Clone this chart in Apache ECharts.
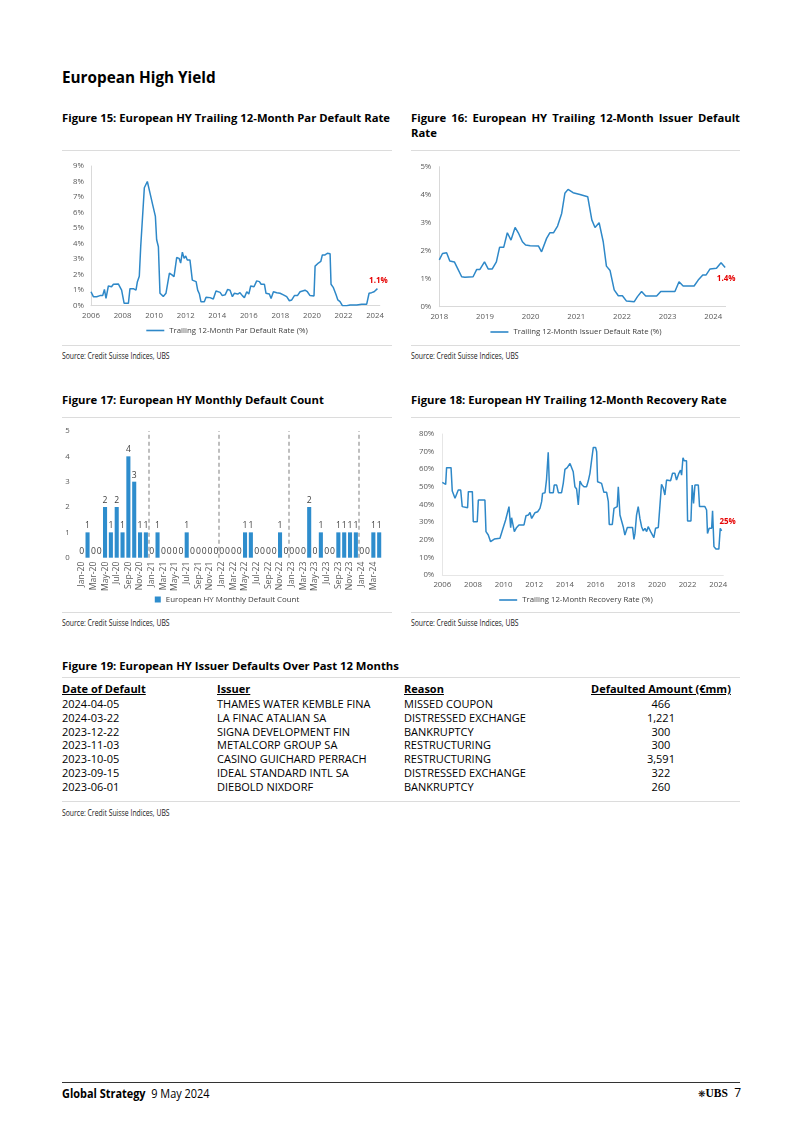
<!DOCTYPE html>
<html>
<head>
<meta charset="utf-8">
<script src="https://cdn.jsdelivr.net/npm/echarts@6/dist/echarts.min.js"></script>
<style>
  html, body { margin:0; padding:0; background:#fff; }
  body { width:802px; height:1134px; position:relative; overflow:hidden; font-family:"Open Sans", sans-serif; color:#000; }
  .abs { position:absolute; white-space:nowrap; }
  .title { font-weight:700; font-size:15.3px; line-height:16px; }
  .ftitle { font-weight:700; font-size:11.3px; line-height:15px; }
  .rule { position:absolute; height:1px; background:#dcdcdc; }
  .src { font-size:9.4px; line-height:10px; color:#222; transform:scaleX(0.73); transform-origin:0 50%; }
  .chart { position:absolute; }
  table.tbl { position:absolute; left:62px; top:682px; border-collapse:collapse; font-size:11px; }
  table.tbl td, table.tbl th { padding:0; height:13.75px; line-height:13.75px; white-space:nowrap; text-align:left; font-weight:400; }
  table.tbl th { font-weight:700; text-decoration:underline; height:15.2px; line-height:14px; vertical-align:top; }
  .footer { font-size:13px; line-height:14px; transform:scaleX(0.84); transform-origin:0 50%; }
</style>
</head>
<body>
<div class="abs title" style="left:62px; top:69px;">European High Yield</div>

<div class="abs ftitle" style="left:62px; top:110px;">Figure 15: European HY Trailing 12-Month Par Default Rate</div>
<div class="abs ftitle" style="left:411px; top:110px; width:329px; white-space:normal; text-align:justify; text-align-last:left;">Figure 16: European HY Trailing 12-Month Issuer Default Rate</div>
<div class="rule" style="left:62px; top:150px; width:330px;"></div>
<div class="rule" style="left:411px; top:150px; width:329px;"></div>
<div id="c15" class="chart" style="left:62px; top:151px; width:330px; height:194px;"></div>
<div id="c16" class="chart" style="left:411px; top:151px; width:330px; height:194px;"></div>
<div class="rule" style="left:62px; top:345px; width:330px;"></div>
<div class="rule" style="left:411px; top:345px; width:329px;"></div>
<div class="abs src" style="left:62px; top:351px;">Source: Credit Suisse Indices, UBS</div>
<div class="abs src" style="left:411px; top:351px;">Source: Credit Suisse Indices, UBS</div>

<div class="abs ftitle" style="left:62px; top:392px;">Figure 17: European HY Monthly Default Count</div>
<div class="abs ftitle" style="left:411px; top:392px;">Figure 18: European HY Trailing 12-Month Recovery Rate</div>
<div class="rule" style="left:62px; top:417px; width:330px;"></div>
<div class="rule" style="left:411px; top:417px; width:329px;"></div>
<div id="c17" class="chart" style="left:62px; top:419px; width:330px; height:193px;"></div>
<div id="c18" class="chart" style="left:411px; top:419px; width:330px; height:193px;"></div>
<div class="rule" style="left:62px; top:612px; width:330px;"></div>
<div class="rule" style="left:411px; top:612px; width:329px;"></div>
<div class="abs src" style="left:62px; top:618px;">Source: Credit Suisse Indices, UBS</div>
<div class="abs src" style="left:411px; top:618px;">Source: Credit Suisse Indices, UBS</div>

<div class="abs ftitle" style="left:62px; top:658px;">Figure 19: European HY Issuer Defaults Over Past 12 Months</div>
<div class="rule" style="left:62px; top:677px; width:678px;"></div>
<table class="tbl" id="tbl">
  <colgroup><col style="width:155px"><col style="width:187px"><col style="width:187px"><col style="width:139px"></colgroup>
  <thead><tr><th>Date of Default</th><th>Issuer</th><th>Reason</th><th style="text-align:center">Defaulted Amount (€mm)</th></tr></thead>
  <tbody id="tbody"></tbody>
</table>
<div class="rule" style="left:62px; top:801px; width:678px;"></div>
<div class="abs src" style="left:62px; top:808px;">Source: Credit Suisse Indices, UBS</div>

<div style="position:absolute; left:62px; top:1082px; width:678px; height:1px; background:#333;"></div>
<div class="abs footer" style="left:62px; top:1086px;"><b>Global Strategy</b>&nbsp; 9 May 2024</div>
<div class="abs" style="right:61px; top:1086px; font-size:12px; line-height:14px; text-align:right;"><span style="font-size:9px;">❋</span><span style="font-family:'Liberation Serif',serif; font-weight:700; font-size:11.5px;">UBS</span>&nbsp;&nbsp;7</div>

<script>
// ---------- Figure 15: trailing 12m par default rate (%) ----------
const parYears = [2006.0,2006.15,2006.36,2006.57,2006.74,2006.85,2006.95,2007.1,2007.3,2007.42,2007.73,2007.94,2008.05,2008.1,2008.37,2008.47,2008.68,2008.85,2008.94,2009.06,2009.15,2009.25,2009.38,2009.46,2009.57,2009.65,2009.74,2009.91,2010.08,2010.16,2010.27,2010.37,2010.45,2010.58,2010.75,2010.85,2010.97,2011.11,2011.26,2011.43,2011.58,2011.68,2011.79,2011.9,2012.0,2012.1,2012.27,2012.42,2012.66,2012.76,2012.87,2012.97,2013.18,2013.29,2013.54,2013.75,2013.92,2014.18,2014.32,2014.5,2014.66,2014.81,2014.96,2015.08,2015.3,2015.44,2015.59,2015.72,2015.87,2016.0,2016.12,2016.33,2016.5,2016.67,2016.78,2016.99,2017.09,2017.3,2017.41,2017.56,2017.77,2017.98,2018.19,2018.4,2018.57,2018.72,2018.89,2019.08,2019.25,2019.56,2019.71,2019.88,2020.13,2020.2,2020.41,2020.56,2020.66,2020.83,2020.98,2021.15,2021.21,2021.36,2021.53,2021.64,2021.78,2021.93,2022.2,2022.42,2022.84,2023.15,2023.47,2023.62,2023.78,2023.94,2024.05,2024.15];
const parRate = [0.9,0.58,0.58,0.65,0.65,1.05,0.47,1.27,1.22,1.38,1.4,1.0,1.0,0.15,0.15,1.1,1.1,1.0,1.55,1.9,3.8,3.8,7.6,7.7,8.0,7.9,7.25,6.5,5.75,4.25,3.8,0.8,0.9,0.6,0.8,0.9,2.1,2.0,1.87,3.1,3.05,2.75,3.45,3.05,3.2,2.95,2.95,1.65,1.55,1.0,0.75,0.25,0.25,0.55,0.52,0.43,0.95,0.86,0.65,0.7,1.05,1.0,0.58,0.8,0.75,0.84,0.65,0.52,0.9,0.75,1.27,1.22,1.6,1.55,1.38,1.38,0.8,0.75,0.47,0.9,0.84,0.8,0.7,0.58,0.32,0.37,0.65,0.65,0.9,1.0,0.9,0.65,0.62,2.55,2.75,2.85,3.27,3.27,3.38,3.35,1.38,1.16,0.7,0.37,0.26,0.0,0.0,0.04,0.05,0.1,0.1,0.8,0.84,0.9,1.0,1.1];

// ---------- Figure 16: trailing 12m issuer default rate (%) ----------
const issYears = [2018.0,2018.07,2018.1,2018.16,2018.23,2018.33,2018.4,2018.49,2018.56,2018.74,2018.82,2018.89,2018.99,2019.07,2019.16,2019.25,2019.32,2019.41,2019.49,2019.57,2019.66,2019.73,2019.82,2019.89,2019.99,2020.17,2020.24,2020.35,2020.42,2020.5,2020.59,2020.68,2020.75,2020.82,2020.93,2021.08,2021.25,2021.34,2021.41,2021.5,2021.59,2021.66,2021.74,2021.83,2021.92,2022.01,2022.1,2022.27,2022.34,2022.43,2022.52,2022.76,2022.85,2023.16,2023.25,2023.34,2023.58,2023.67,2023.77,2023.84,2023.93,2024.07,2024.17,2024.26];
const issRate = [1.67,1.9,1.94,1.93,1.63,1.6,1.37,1.07,1.05,1.07,1.33,1.33,1.6,1.35,1.35,1.6,2.12,2.12,2.64,2.38,2.83,2.64,2.32,2.2,2.18,2.17,1.96,2.44,2.64,2.64,2.88,3.33,4.05,4.19,4.07,4.01,3.93,3.1,2.83,3.0,2.32,1.45,1.29,0.6,0.39,0.39,0.2,0.18,0.36,0.54,0.38,0.38,0.54,0.54,0.89,0.74,0.74,0.95,1.13,1.13,1.35,1.37,1.57,1.4];

// ---------- Figure 17: monthly default count ----------
const months = ['Jan-20','Feb-20','Mar-20','Apr-20','May-20','Jun-20','Jul-20','Aug-20','Sep-20','Oct-20','Nov-20','Dec-20',
  'Jan-21','Feb-21','Mar-21','Apr-21','May-21','Jun-21','Jul-21','Aug-21','Sep-21','Oct-21','Nov-21','Dec-21',
  'Jan-22','Feb-22','Mar-22','Apr-22','May-22','Jun-22','Jul-22','Aug-22','Sep-22','Oct-22','Nov-22','Dec-22',
  'Jan-23','Feb-23','Mar-23','Apr-23','May-23','Jun-23','Jul-23','Aug-23','Sep-23','Oct-23','Nov-23','Dec-23',
  'Jan-24','Feb-24','Mar-24','Apr-24'];
const defaultCount = [0,1,0,0,2,1,2,1,4,3,1,1,
  0,1,0,0,0,0,1,0,0,0,0,0,
  0,0,0,0,1,1,0,0,0,0,1,0,
  0,0,0,2,0,1,0,0,1,1,1,1,
  0,0,1,1];
const yearStarts = ['Jan-21','Jan-22','Jan-23','Jan-24'];

// ---------- Figure 18: trailing 12m recovery rate (%) ----------
const recYears = [2006.0,2006.13,2006.22,2006.28,2006.57,2006.65,2006.78,2006.83,2006.93,2007.04,2007.2,2007.3,2007.43,2007.65,2007.7,2007.96,2008.02,2008.28,2008.35,2008.78,2008.85,2009.0,2009.15,2009.28,2009.39,2009.76,2009.91,2010.04,2010.13,2010.24,2010.35,2010.46,2010.52,2010.63,2010.7,2010.85,2011.0,2011.33,2011.39,2011.46,2011.61,2011.72,2011.83,2011.93,2012.04,2012.22,2012.37,2012.48,2012.54,2012.7,2012.8,2012.91,2013.0,2013.24,2013.3,2013.46,2013.57,2013.78,2013.89,2014.0,2014.15,2014.33,2014.43,2014.54,2014.65,2014.76,2014.87,2014.98,2015.09,2015.24,2015.41,2015.52,2015.63,2015.74,2015.85,2016.0,2016.07,2016.13,2016.24,2016.39,2016.54,2016.72,2016.83,2016.89,2017.09,2017.2,2017.3,2017.41,2017.48,2017.59,2017.7,2017.8,2017.91,2018.07,2018.41,2018.5,2018.57,2018.67,2018.78,2018.89,2019.0,2019.11,2019.22,2019.33,2019.43,2019.59,2019.72,2019.8,2019.91,2020.09,2020.2,2020.3,2020.41,2020.52,2020.63,2020.74,2020.89,2021.02,2021.17,2021.28,2021.43,2021.54,2021.61,2021.7,2021.78,2021.93,2022.0,2022.22,2022.3,2022.39,2022.48,2022.7,2022.78,2023.13,2023.24,2023.3,2023.41,2023.57,2023.63,2023.72,2023.85,2024.04,2024.13,2024.22];
const recRate = [52.5,52,51.4,60.9,60.9,47.6,47.3,43.5,42.9,48.2,48.2,38.8,38.2,38.2,47.3,47.3,30.2,30.2,42.5,42.5,24.6,22.7,18.9,18.3,20.4,20.8,25.1,25.5,31.2,32.1,38.8,26.8,32.5,32.1,24.6,27,28.4,28.4,27.4,33.6,34,35.5,32.1,31.6,35.3,35.9,37.8,41.6,46.3,46.7,54.3,69.6,46.7,46.7,51,51,46.7,46.7,52,59.9,60.9,63.3,63.3,58.6,50.1,48.8,39.7,53.3,51.4,50.1,50.1,53.3,57.7,65.2,72.4,72.4,69.9,52.9,52,52,46.9,46.9,41.6,28.7,28.7,37.8,38.8,38.8,50.1,34,33.1,27.4,22.7,27,27,20.2,23.6,34,38.8,32.1,27.4,25,26.5,24.6,27.4,24.6,24.6,21.2,26.5,27,26.1,51.4,49.5,45.4,53.9,52.9,53.5,57.7,57.7,53.9,57.7,59.5,56.7,66.5,64.8,64.8,30.6,30.6,51,40.6,51,51,38.8,38.8,36.9,23.6,26.5,26.5,36.5,16.1,14.7,14.7,26.5,25];

// ---------- Figure 19: table ----------
const tblDates = ['2024-04-05','2024-03-22','2023-12-22','2023-11-03','2023-10-05','2023-09-15','2023-06-01'];
const tblIssuers = ['THAMES WATER KEMBLE FINA','LA FINAC ATALIAN SA','SIGNA DEVELOPMENT FIN','METALCORP GROUP SA','CASINO GUICHARD PERRACH','IDEAL STANDARD INTL SA','DIEBOLD NIXDORF'];
const tblReasons = ['MISSED COUPON','DISTRESSED EXCHANGE','BANKRUPTCY','RESTRUCTURING','RESTRUCTURING','DISTRESSED EXCHANGE','BANKRUPTCY'];
const tblAmounts = ['466','1,221','300','300','3,591','322','260'];

const tb = document.getElementById('tbody');
tblDates.forEach((d, i) => {
  const tr = document.createElement('tr');
  [d, tblIssuers[i], tblReasons[i], tblAmounts[i]].forEach((t, j) => {
    const td = document.createElement('td');
    td.textContent = t;
    if (j === 3) td.style.textAlign = 'center';
    tr.appendChild(td);
  });
  tb.appendChild(tr);
});

// ---------- shared styles ----------
const FONT = 'Open Sans';
const LINE = '#2e88c8';
const BAR = '#2e8dcd';
const TICK = '#595959';
const AXIS = '#d9d9d9';
const RED = '#e60000';
const TF = 7.8;

function lineChart(id, opt) {
  const c = echarts.init(document.getElementById(id));
  const data = opt.xs.map((x, i) => [x, opt.ys[i]]);
  const last = data[data.length - 1];
  c.setOption({
    animation: false,
    textStyle: { fontFamily: FONT },
    grid: opt.grid,
    legend: {
      data: [opt.name], top: opt.legendTop, left: 'center',
      icon: 'rect', itemWidth: 18, itemHeight: 1.6, itemGap: 4,
      textStyle: { fontSize: TF, color: '#404040', fontFamily: FONT }
    },
    xAxis: {
      type: 'value', min: opt.xmin, max: opt.xmax, interval: opt.xint,
      axisLine: { show: true, lineStyle: { color: opt.axisColor, width: 1 } },
      axisTick: { show: false }, splitLine: { show: false },
      axisLabel: { fontSize: TF, color: TICK, margin: 6, fontFamily: FONT,
        formatter: v => (Math.abs(v - Math.round(v)) < 1e-6 && Math.round(v) % opt.xint === 0) ? String(Math.round(v)) : '' }
    },
    yAxis: {
      type: 'value', min: 0, max: opt.ymax, interval: opt.yint,
      axisLine: { show: true, lineStyle: { color: opt.axisColor, width: 1 } },
      axisTick: { show: false }, splitLine: { show: false },
      axisLabel: { fontSize: TF, color: TICK, margin: opt.ymargin, fontFamily: FONT, formatter: v => v + '%' }
    },
    series: [{
      name: opt.name, type: 'line', data: data, symbol: 'none', showSymbol: false,
      lineStyle: { color: LINE, width: 1.5 }, itemStyle: { color: LINE },
      markPoint: {
        silent: true, symbol: 'circle', symbolSize: 1, itemStyle: { color: 'rgba(0,0,0,0)' },
        label: { show: true, position: opt.labelPos, distance: opt.labelDist, offset: opt.labelOffset,
          formatter: () => opt.labelFmt(last[1]), color: RED, fontWeight: 'bold', fontSize: 8, fontFamily: FONT },
        data: [{ coord: last }]
      }
    }]
  });
}

lineChart('c15', {
  grid: { left: 29, top: 15, width: 288.8, height: 139.7 },
  name: 'Trailing 12-Month Par Default Rate (%)', legendTop: 170.5,
  xmin: 2006, xmax: 2024.3, xint: 2, ymax: 9, yint: 1, ymargin: 7, axisColor: AXIS,
  xs: parYears, ys: parRate,
  labelFmt: v => v.toFixed(1) + '%', labelPos: 'top', labelDist: 3, labelOffset: [1, 0]
});

lineChart('c16', {
  grid: { left: 28.3, top: 15.7, width: 286.3, height: 140 },
  name: 'Trailing 12-Month Issuer Default Rate (%)', legendTop: 172,
  xmin: 2018, xmax: 2024.27, xint: 1, ymax: 5, yint: 1, ymargin: 8, axisColor: AXIS,
  xs: issYears, ys: issRate,
  labelFmt: v => v.toFixed(1) + '%', labelPos: 'bottom', labelDist: 7, labelOffset: [1, 0]
});

lineChart('c18', {
  grid: { left: 31.3, top: 15, width: 281, height: 141 },
  name: 'Trailing 12-Month Recovery Rate (%)', legendTop: 172,
  xmin: 2006, xmax: 2024.33, xint: 2, ymax: 80, yint: 10, ymargin: 8, axisColor: '#e6e6e6',
  xs: recYears, ys: recRate,
  labelFmt: v => v.toFixed(0) + '%', labelPos: 'top', labelDist: 5, labelOffset: [6, 0]
});

// ---------- Figure 17 bar chart ----------
(function () {
  const c = echarts.init(document.getElementById('c17'));
  const bounds = yearStarts.map(m => ({ xAxis: months.indexOf(m) }));
  c.setOption({
    animation: false,
    textStyle: { fontFamily: FONT },
    grid: { left: 16.8, top: 12, width: 303.3, height: 126.7 },
    legend: {
      data: ['European HY Monthly Default Count'], top: 171.5, left: 'center',
      icon: 'rect', itemWidth: 6, itemHeight: 6, itemGap: 3,
      textStyle: { fontSize: 7.9, color: '#404040', fontFamily: FONT }
    },
    xAxis: [{
      type: 'category', data: months, boundaryGap: true,
      axisLine: { show: false }, axisTick: { show: false },
      axisLabel: { rotate: 90, interval: 1, fontSize: 8.6, color: TICK, margin: 4, fontFamily: FONT }
    }, {
      type: 'value', min: 0, max: months.length, show: false
    }],
    yAxis: {
      type: 'value', min: 0, max: 5, interval: 1,
      axisLine: { show: false }, axisTick: { show: false }, splitLine: { show: false },
      axisLabel: { fontSize: TF, color: TICK, margin: 9, fontFamily: FONT }
    },
    series: [{
      name: 'European HY Monthly Default Count', type: 'bar', data: defaultCount,
      barCategoryGap: '30%', itemStyle: { color: BAR },
      label: { show: true, position: 'top', distance: 2, fontSize: 8.6, color: '#404040', fontFamily: FONT }
    }, {
      type: 'line', xAxisIndex: 1, data: [[0, 0]], symbol: 'none', symbolSize: 0,
      lineStyle: { width: 0, opacity: 0 }, silent: true,
      markLine: {
        silent: true, symbol: ['none', 'none'], label: { show: false },
        lineStyle: { type: [4, 3], color: '#a9a9a9', width: 1.5 },
        data: bounds
      }
    }]
  });
})();
</script>
</body>
</html>
